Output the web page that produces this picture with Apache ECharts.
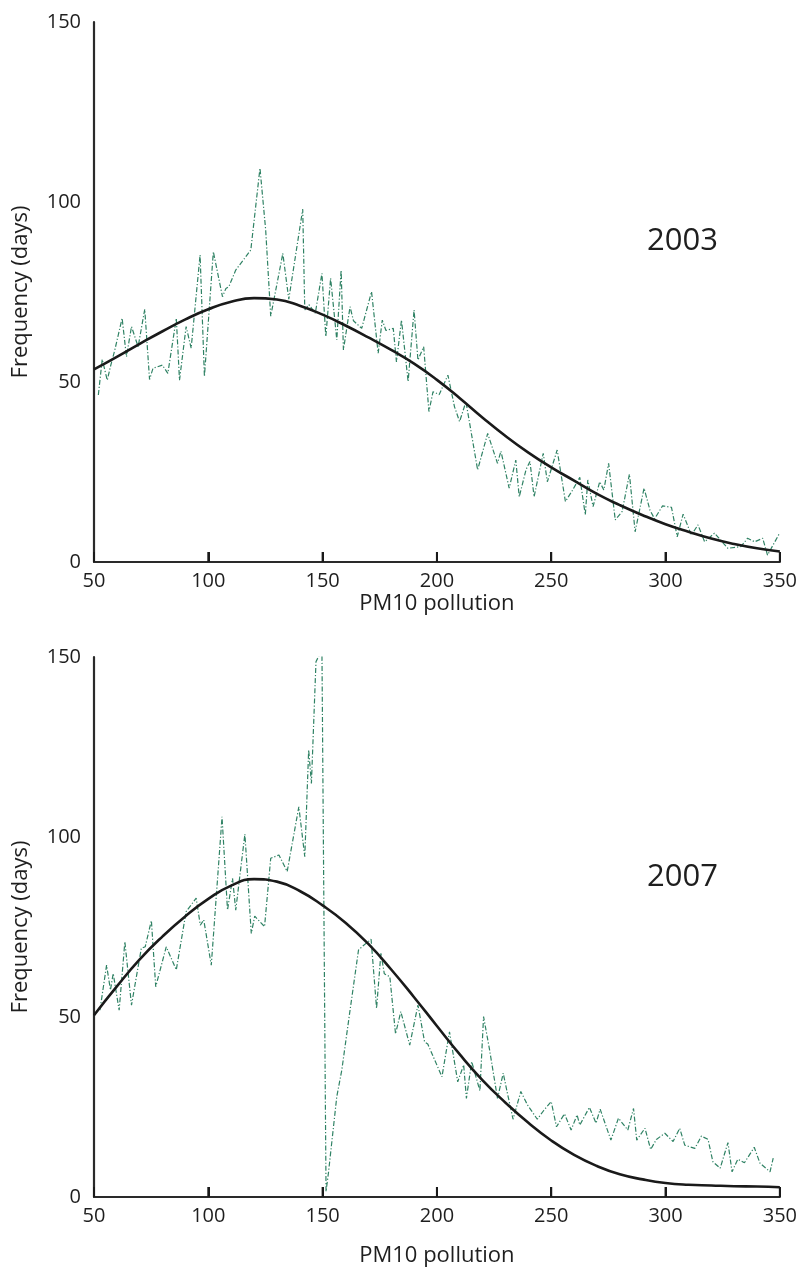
<!DOCTYPE html>
<html>
<head>
<meta charset="utf-8">
<script src="https://cdn.jsdelivr.net/npm/echarts@6/dist/echarts.min.js"></script>
<style>
html,body{margin:0;padding:0;background:#fff;}
#chart{width:800px;height:1270px;}
</style>
</head>
<body>
<div id="chart"></div>
<script>
// ---- data ----
const xTicks = [50, 100, 150, 200, 250, 300, 350];
const yTicks = [0, 50, 100, 150];
const panelLabels = ['2003', '2007'];
const xAxisTitle = 'PM10 pollution';
const yAxisTitle = 'Frequency (days)';

// observed frequency 2003 (PM10, days)
const observed2003 = [
[51.9,46.4],[53.6,56.3],[55.8,50.5],[57.2,54.3],[59.1,58.9],[62.3,67.7],[64.2,57.0],[66.4,65.4],[69.3,59.8],[72.2,70.2],
[74.3,50.7],[75.8,53.8],[79.9,54.7],[82.3,52.4],[86.0,67.7],[87.4,50.5],[90.3,65.4],[92.5,59.4],[96.4,85.3],[98.3,51.5],
[102.2,86.2],[106.2,73.7],[107.7,76.0],[109,76.5],[112.0,81.1],[116.4,84.8],[118.6,86.7],[122.6,109.4],[125.1,92.2],[127.3,68.3],
[132.6,85.7],[135.2,73.0],[141.3,98.0],[142.2,70.0],[144,71.5],[146.8,69.1],[149.7,80.2],[151.4,62.6],[153.5,78.8],[156.2,61.7],
[158.1,81.1],[159.1,58.9],[162.0,70.9],[163.5,67],[167.1,64.9],[171.4,75.1],[174.3,58.0],[176.1,67.2],[177.7,64.3],[180.9,64.9],
[182.3,55.6],[184.5,67.2],[187.4,50.1],[190.0,70.0],[191.7,56.1],[194.2,59.8],[196.5,41.8],[198.3,47.3],[201,46.5],[204.8,51.9],
[207.7,43.1],[209.9,39.0],[212.7,44.5],[217.8,25.6],[222.2,35.7],[226.5,27.4],[228,30.8],[231.6,20.5],[234.5,28.3],[236,18.1],
[239,25.7],[240.7,27.9],[242.5,18.1],[246.5,30.2],[248.3,22.3],[252.6,31.1],[256.2,16.8],[259,19.6],[262.5,23.5],[264.9,13.1],
[266,22.8],[268.3,15.4],[271.2,22.3],[273,20],[275.1,27.4],[278,11.7],[281,14],[284.2,24.4],[286.7,8.4],[290.6,20.5],
[293.2,14.4],[295.2,12],[298.7,15.6],[302.6,15.2],[305.1,7.0],[307.7,13.3],[311.3,7.5],[314.2,10.3],[317.1,5.6],[321.4,8.0],
[327.3,3.8],[333,4.3],[335.9,6.6],[339,5.6],[342.5,6.6],[344.6,1.9],[349.7,7.8]
];

// fitted curve 2003
const fitted2003 = [
[50,53.5],[60,57],[70,60.6],[80,64.1],[90,67.4],[100,70.2],[110,72.3],[120,73.3],[130,72.9],[140,71.2],
[150,68.7],[160,65.7],[170,62.4],[180,58.9],[190,55.1],[200,50.6],[210,45.5],[220,40.1],[230,35],[240,30.4],
[250,26.3],[260,22.6],[270,18.9],[280,15.8],[290,13],[300,10.5],[310,8.4],[320,6.5],[330,5],[340,3.8],[350,2.9]
];

// observed frequency 2007
const observed2007 = [
[52.6,51.9],[55.5,64.4],[57.2,57.5],[58.4,62.1],[61,51.9],[63.5,70.9],[66.4,53.3],[70.7,69.1],[72.4,69.5],[75.1,76.8],
[77,58.4],[81.6,69.5],[86,63.1],[90.3,79.3],[94.7,83],[96.5,75.5],[98,77],[101.3,64.4],[104,88],[106,105.6],
[108.4,79.7],[110.6,88.5],[112,79.7],[116,100.8],[118.8,73.2],[120.3,78],[124.6,75.1],[127.3,94.1],[130.9,95],[134.5,90.4],
[139.6,108.4],[142.2,94.5],[143.9,124.2],[145.1,114.9],[147.1,148.7],[149.7,152],[151.5,1.5],[152.6,7],[156.2,27.9],[158.4,35.3],
[162,51.9],[165.7,68.6],[167.2,69.5],[171.2,71.6],[173.6,52.4],[175.5,67.7],[177,62],[179.4,61.2],[181.9,45.3],[184.2,51.5],
[188.1,42.2],[191.7,53.3],[194.6,43.1],[196,42.5],[199,38.1],[202.2,33.4],[205.5,45.9],[209.1,32],[211.7,36.7],[212.9,27.4],
[215.2,37.6],[218.8,29.5],[220.4,50.1],[223,41],[226.5,27.4],[229,34.4],[230.9,28.6],[233.3,21.6],[236.7,29.3],[239.6,25.6],
[243.9,21.6],[246.8,24.1],[250,26.5],[252.3,19.5],[255.8,23.1],[258.7,18.6],[261.3,22.8],[262.5,20],[266.7,24.9],[269.6,20.5],
[271.4,24.4],[276.1,15.8],[279.4,21.9],[283.5,18.6],[286,24.6],[287.4,15.8],[291,19.1],[293.5,13.2],[296,16],[299.7,17.7],
[303.3,15.4],[306.2,19.1],[308.4,14.4],[312.8,13.5],[315.7,16.9],[318.6,16],[320.7,9.8],[323.9,8.0],[327.3,15.1],[329.1,7.0],
[331.6,10.5],[334.5,9.5],[338.8,13.8],[341.3,9.4],[345.7,7.0],[347.1,10.8]
];

// fitted curve 2007
const fitted2007 = [
[50,50.5],[60,58.5],[70,66],[80,72.4],[90,78],[100,82.8],[110,86.5],[120,88.3],[130,87.6],[140,85],
[150,81],[160,76.2],[170,70.3],[180,63.2],[190,55.5],[200,47.5],[210,39.6],[220,32.4],[230,26.2],[240,20.6],
[250,15.7],[260,11.7],[270,8.6],[280,6.3],[290,4.9],[300,3.9],[310,3.4],[320,3.2],[330,3],[340,2.9],[350,2.7]
];

// ---- chart ----
const FONT = '"Open Sans", "Noto Sans", sans-serif';
const TXT = '#1e1e1e';
const chart = echarts.init(document.getElementById('chart'), null, {renderer: 'canvas'});

function xAxisDef(gi, gap) {
  return {
    gridIndex: gi, type: 'value',
    min: xTicks[0], max: xTicks[xTicks.length - 1], interval: xTicks[1] - xTicks[0],
    name: xAxisTitle, nameLocation: 'middle', nameGap: gap,
    nameTextStyle: {fontFamily: FONT, fontSize: 22, color: TXT},
    axisLine: {show: true, onZero: false, lineStyle: {color: '#2a2a2a', width: 2.2}},
    axisTick: {show: true, inside: true, length: 10, lineStyle: {color: '#1a1a1a', width: 2}},
    axisLabel: {fontFamily: FONT, fontSize: 20, color: TXT, margin: 9, showMinLabel: true, showMaxLabel: true},
    splitLine: {show: false}
  };
}
function yAxisDef(gi) {
  return {
    gridIndex: gi, type: 'value',
    min: yTicks[0], max: yTicks[yTicks.length - 1], interval: yTicks[1] - yTicks[0],
    name: yAxisTitle, nameLocation: 'middle', nameGap: 62, nameRotate: 90,
    nameTextStyle: {fontFamily: FONT, fontSize: 22, color: TXT},
    axisLine: {show: true, lineStyle: {color: '#2a2a2a', width: 2.2}},
    axisTick: {show: false},
    axisLabel: {fontFamily: FONT, fontSize: 20, color: TXT, margin: 13},
    splitLine: {show: false}
  };
}
function obsSeries(gi, data) {
  return {
    type: 'line', xAxisIndex: gi, yAxisIndex: gi, data: data,
    symbol: 'none', smooth: false, clip: true,
    lineStyle: {color: '#2f8264', width: 1.2, type: [5, 2, 1.2, 2]},
    z: 2
  };
}
function fitSeries(gi, data) {
  return {
    type: 'line', xAxisIndex: gi, yAxisIndex: gi, data: data,
    symbol: 'none', smooth: 0.5, clip: true,
    lineStyle: {color: '#1a1a1a', width: 2.6},
    z: 3
  };
}
// inward tick marks on the x axis, placed through the axis scale
function tickSeries(gi) {
  return {
    type: 'scatter', xAxisIndex: gi, yAxisIndex: gi,
    data: xTicks.slice(1).map(v => [v, yTicks[0]]),
    symbol: 'rect', symbolSize: [2, 10], symbolOffset: [0, -5],
    itemStyle: {color: '#1a1a1a', opacity: 1}, clip: false, silent: true, z: 10
  };
}

chart.setOption({
  animation: false,
  backgroundColor: '#fff',
  grid: [
    {left: 94, top: 22, width: 690, height: 540, containLabel: false},
    {left: 94, top: 657, width: 690, height: 540, containLabel: false}
  ],
  xAxis: [xAxisDef(0, 31), xAxisDef(1, 48)],
  yAxis: [yAxisDef(0), yAxisDef(1)],
  series: [
    obsSeries(0, observed2003), fitSeries(0, fitted2003), tickSeries(0),
    obsSeries(1, observed2007), fitSeries(1, fitted2007), tickSeries(1)
  ],
  graphic: [
    {type: 'text', left: 647, top: 226, style: {text: panelLabels[0], fontFamily: FONT, fontSize: 31, fill: TXT}},
    {type: 'text', left: 647, top: 862, style: {text: panelLabels[1], fontFamily: FONT, fontSize: 31, fill: TXT}}
  ]
});
</script>
</body>
</html>
